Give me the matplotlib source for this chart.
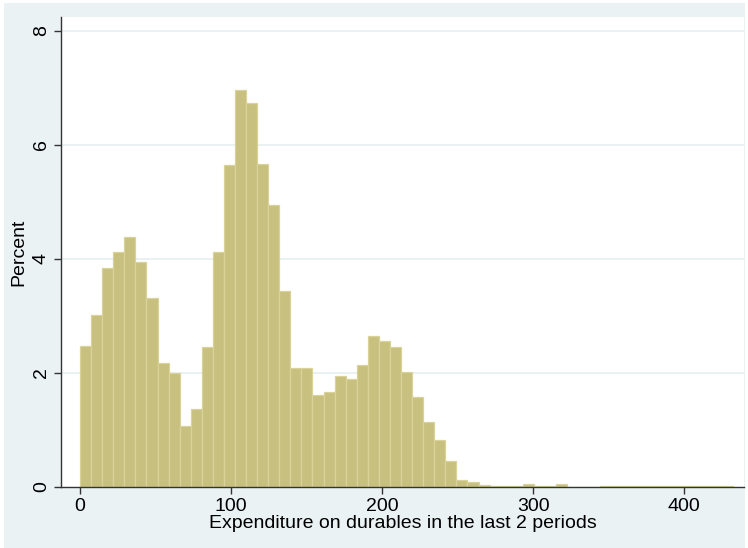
import matplotlib
matplotlib.use('Agg')
import matplotlib.pyplot as plt
from matplotlib.patches import Rectangle

# histogram bins: start at 0, width ~7.33, 59 bins
bin_start = 0.0
bin_width = 7.33
percent = [
    2.47, 3.02, 3.84, 4.12, 4.38, 3.95, 3.32, 2.17, 2.00, 1.07,
    1.37, 2.46, 4.12, 5.65, 6.96, 6.73, 5.67, 4.94, 3.44, 2.09,
    2.08, 1.62, 1.67, 1.94, 1.89, 2.14, 2.65, 2.56, 2.46, 2.01,
    1.58, 1.14, 0.82, 0.46, 0.13, 0.09, 0.04, 0.02, 0.01, 0.01,
    0.05, 0.01, 0.01, 0.05, 0.005, 0.005, 0.005, 0.01, 0.01, 0.01,
    0.01, 0.01, 0.01, 0.01, 0.01, 0.01, 0.01, 0.01, 0.01,
]
x_ticks = [0, 100, 200, 300, 400]
y_ticks = [0, 2, 4, 6, 8]

plt.rcParams['font.family'] = ['Liberation Sans', 'DejaVu Sans']

W, H = 748, 548
fig = plt.figure(figsize=(W / 100, H / 100), dpi=100, facecolor='white')
# Stata-like graph region
fig.patches.append(Rectangle((4 / W, 0), (745 - 4) / W, (H - 3) / H,
                             transform=fig.transFigure, facecolor='#EAF2F3',
                             edgecolor='none', zorder=-10))

ax = fig.add_axes([61 / W, (H - 487) / H, (744 - 61) / W, (487 - 17) / H])
ax.set_facecolor('white')

lefts = [bin_start + i * bin_width for i in range(len(percent))]
ax.bar(lefts, percent, width=bin_width, align='edge',
       color='#C8C07E', edgecolor='#D9D39B', linewidth=0.9, zorder=2)

ax.set_xlim(-12.6, 439.7)
ax.set_ylim(0, 8.24)
ax.set_xticks(x_ticks)
ax.set_yticks(y_ticks)
for v in y_ticks[1:]:
    ax.axhline(v, color='#E6EFF1', linewidth=1.2, zorder=1)

for s in ['top', 'right']:
    ax.spines[s].set_visible(False)
for s in ['left', 'bottom']:
    ax.spines[s].set_color('#333333')
    ax.spines[s].set_linewidth(1.0)

ax.tick_params(axis='both', direction='out', length=5, width=1, color='#333333',
               labelsize=14, labelcolor='black', pad=3)
plt.setp(ax.get_yticklabels(), rotation=90, va='center')

ax.set_xlabel('Expenditure on durables in the last 2 periods', fontsize=14, labelpad=0)
ax.set_ylabel('Percent', fontsize=14, labelpad=4)

fig.savefig('out.png', dpi=100, facecolor=fig.get_facecolor())
